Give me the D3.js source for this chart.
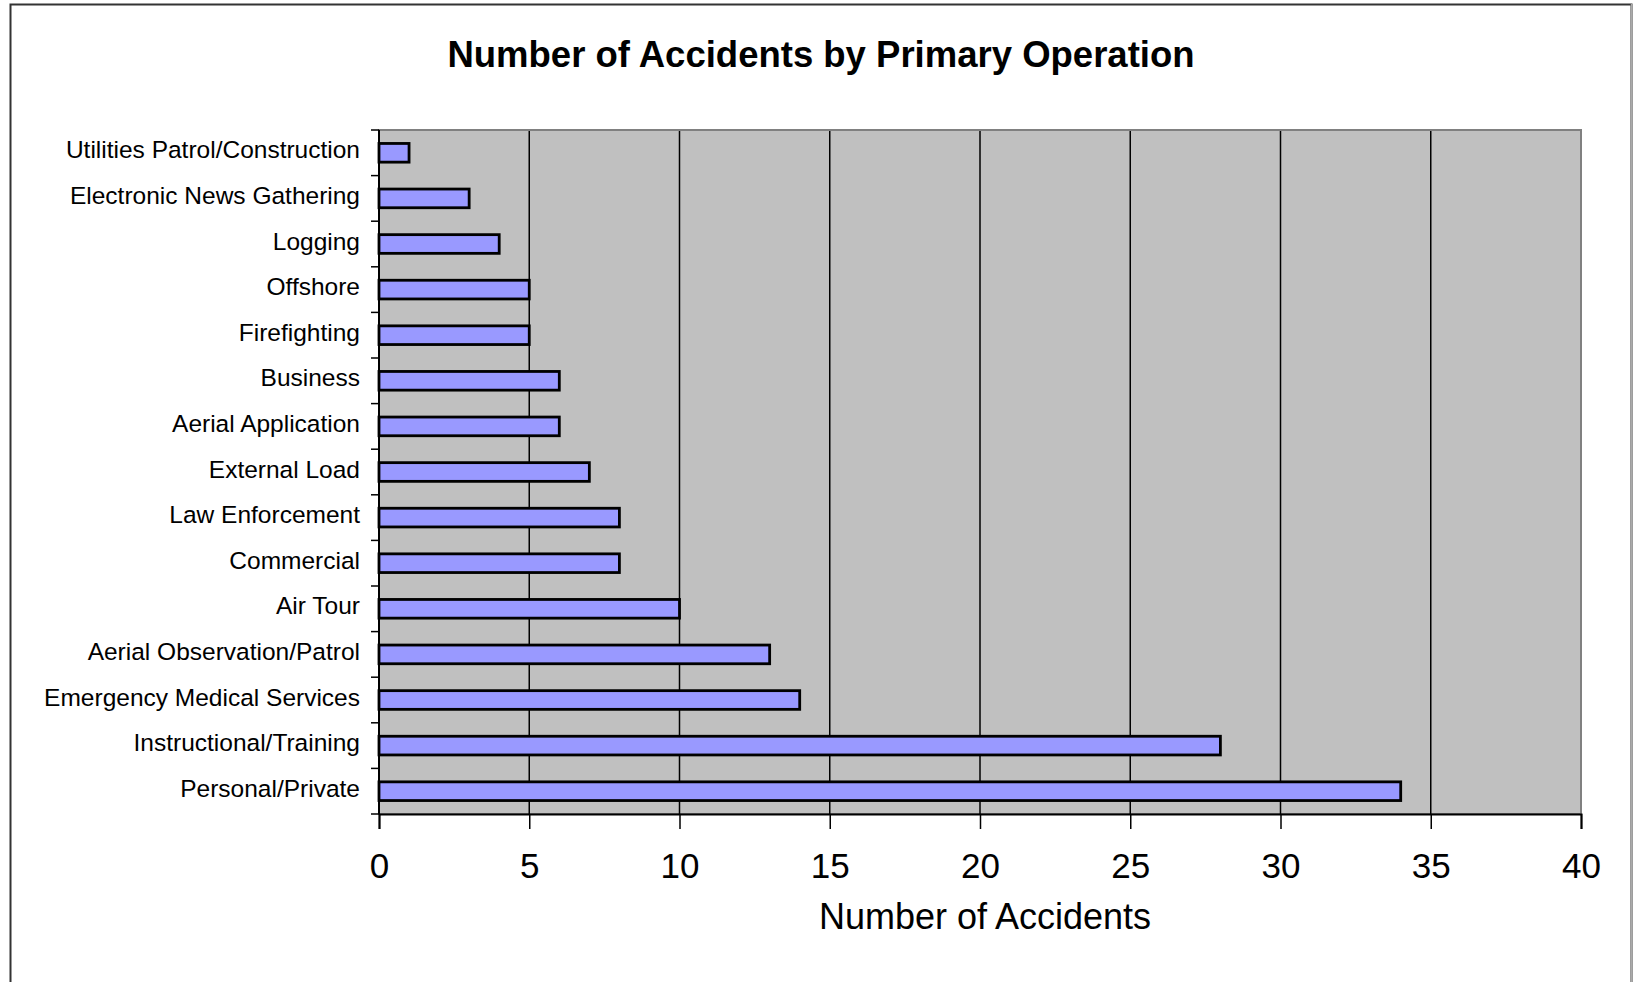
<!DOCTYPE html>
<html>
<head>
<meta charset="utf-8">
<script src="https://cdn.jsdelivr.net/npm/d3@7"></script>
<style>
  html, body { margin: 0; padding: 0; background: #fff; }
  svg { display: block; }
  text { font-family: "Liberation Sans", Arial, sans-serif; fill: #000; }
</style>
</head>
<body>
<svg id="chart" width="1633" height="982"></svg>
<script>
const categories = [
  "Utilities Patrol/Construction",
  "Electronic News Gathering",
  "Logging",
  "Offshore",
  "Firefighting",
  "Business",
  "Aerial Application",
  "External Load",
  "Law Enforcement",
  "Commercial",
  "Air Tour",
  "Aerial Observation/Patrol",
  "Emergency Medical Services",
  "Instructional/Training",
  "Personal/Private"
];
const accidents = [1, 3, 4, 5, 5, 6, 6, 7, 8, 8, 10, 13, 14, 28, 34];
const xTicks = [0, 5, 10, 15, 20, 25, 30, 35, 40];
const titleText = "Number of Accidents by Primary Operation";
const xTitleText = "Number of Accidents";

(function () {
const svg = d3.select("#chart");

// outer chart frame
svg.append("rect")
  .attr("x", 10.5).attr("y", 4.5)
  .attr("width", 1621).attr("height", 1000)
  .attr("fill", "#fff")
  .attr("stroke", "#333").attr("stroke-width", 2);
svg.append("line")
  .attr("x1", 1631.5).attr("x2", 1631.5).attr("y1", 4).attr("y2", 982)
  .attr("stroke", "#aaa").attr("stroke-width", 1.5);

const pLeft = 379, pRight = 1581, pTop = 130, pBottom = 814;

const x = d3.scaleLinear().domain([0, 40]).range([pLeft, pRight]);
const y = d3.scaleBand().domain(categories).range([pTop, pBottom])
  .paddingInner(0.59).paddingOuter(0.295);

// plot area
svg.append("rect")
  .attr("x", pLeft).attr("y", pTop)
  .attr("width", pRight - pLeft).attr("height", pBottom - pTop)
  .attr("fill", "#C0C0C0")
  .attr("stroke", "#808080").attr("stroke-width", 2);

// gridlines
svg.append("g").selectAll("line")
  .data(xTicks.filter(d => d > 0 && d < 40))
  .join("line")
  .attr("x1", d => x(d)).attr("x2", d => x(d))
  .attr("y1", pTop + 1).attr("y2", pBottom)
  .attr("stroke", "#000").attr("stroke-width", 1.5);

// bars
svg.append("g").selectAll("rect")
  .data(categories)
  .join("rect")
  .attr("x", x(0))
  .attr("y", d => y(d))
  .attr("width", (d, i) => x(accidents[i]) - x(0))
  .attr("height", y.bandwidth())
  .attr("fill", "#9999FF")
  .attr("stroke", "#000").attr("stroke-width", 2.8);

// x axis
const xAxis = d3.axisBottom(x).tickValues(xTicks).tickSize(15).tickPadding(24);
const gx = svg.append("g").attr("transform", `translate(0,${pBottom})`).call(xAxis);
gx.select(".domain").attr("stroke", "#000").attr("stroke-width", 2);
gx.selectAll(".tick line").attr("stroke", "#000").attr("stroke-width", 1.5);
gx.selectAll(".tick text")
  .attr("font-family", "Liberation Sans, Arial, sans-serif")
  .attr("font-size", 35).attr("fill", "#000")
  .attr("dy", "0.71em");

// y axis line and boundary ticks
const step = y.step();
const boundaries = d3.range(categories.length + 1).map(i => pTop + i * step);
svg.append("line")
  .attr("x1", pLeft).attr("x2", pLeft).attr("y1", pTop).attr("y2", pBottom)
  .attr("stroke", "#000").attr("stroke-width", 2);
svg.append("g").selectAll("line")
  .data(boundaries)
  .join("line")
  .attr("x1", pLeft - 8).attr("x2", pLeft)
  .attr("y1", d => d).attr("y2", d => d)
  .attr("stroke", "#000").attr("stroke-width", 1.5);

// category labels
svg.append("g").selectAll("text")
  .data(categories)
  .join("text")
  .attr("x", 360)
  .attr("y", d => y(d) + y.bandwidth() / 2 - 3)
  .attr("dy", "0.35em")
  .attr("text-anchor", "end")
  .attr("font-size", 24.5)
  .text(d => d);

// title
svg.append("text")
  .attr("x", 821).attr("y", 67)
  .attr("text-anchor", "middle")
  .attr("font-size", 36.5).attr("font-weight", "bold")
  .text(titleText);

// x axis title
svg.append("text")
  .attr("x", 985).attr("y", 929)
  .attr("text-anchor", "middle")
  .attr("font-size", 36)
  .text(xTitleText);
})();
</script>
</body>
</html>
